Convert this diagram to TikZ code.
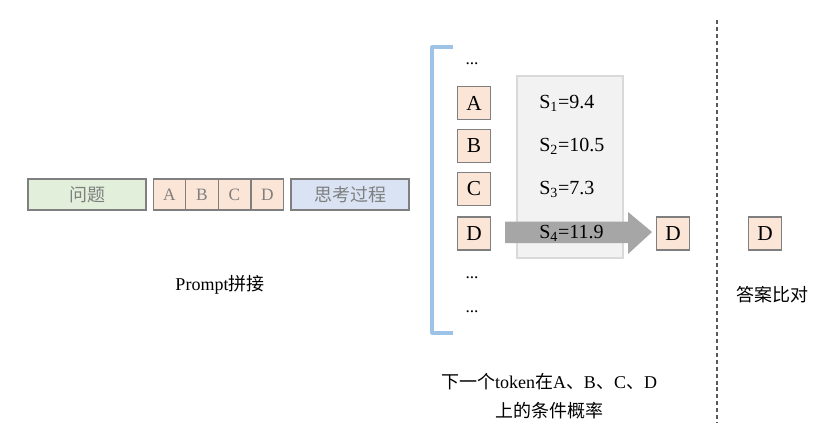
\documentclass[tikz,border=0pt]{standalone}
\usepackage{fontspec}
\setmainfont{Liberation Serif}
\newfontfamily\cjk{Noto Sans CJK SC}
\definecolor{bgreen}{HTML}{E2EFDA}
\definecolor{borange}{HTML}{FBE5D6}
\definecolor{bblue}{HTML}{DAE3F3}
\definecolor{bordgray}{HTML}{7F7F7F}
\definecolor{txtgray}{HTML}{7F7F7F}
\definecolor{brk}{HTML}{9DC3E6}
\definecolor{panel}{HTML}{F2F2F2}
\definecolor{panelb}{HTML}{D9D9D9}
\definecolor{arrowgray}{HTML}{A6A6A6}
\definecolor{dashc}{HTML}{595959}
\begin{document}
\begin{tikzpicture}[x=0.75pt,y=-0.75pt,
  promptbox/.style={draw=bordgray,line width=0.9pt,minimum height=23.25pt,inner sep=0pt,font=\cjk\fontsize{13.5}{15}\selectfont,text=txtgray},
  optsmall/.style={draw=bordgray,line width=0.9pt,fill=borange,minimum height=23.25pt,minimum width=24.5pt,inner sep=0pt,font=\fontsize{13}{15}\selectfont,text=txtgray},
  tokbox/.style={draw=bordgray,line width=0.9pt,fill=borange,minimum width=24.75pt,minimum height=24.75pt,inner sep=0pt,font=\fontsize{16}{18}\selectfont},
  stxt/.style={font=\fontsize{15}{17}\selectfont,inner sep=0pt,anchor=west},
  dots/.style={font=\fontsize{13}{15}\selectfont,inner sep=0pt},
  captxt/.style={font=\fontsize{13.5}{15}\selectfont,inner sep=0pt}]
\useasboundingbox (0,0) rectangle (837,444);
% prompt row
\node[promptbox,fill=bgreen,minimum width=88.5pt] (q) at (87,194.5) {问题};
\node[optsmall] (oa) at (169.5,194.5) {A};
\node[optsmall] (ob) at (202,194.5) {B};
\node[optsmall] (oc) at (234.5,194.5) {C};
\node[optsmall] (od) at (267.5,194.5) {D};
\node[promptbox,fill=bblue,minimum width=88.5pt] (th) at (350,194.5) {思考过程};
\node[captxt] (pl) at (220,285) {Prompt{\cjk 拼接}};
% bracket
\coordinate (bt) at (453,47);
\coordinate (bb) at (453,333);
\draw[brk,line width=2.4pt,line join=round] (bt) -- (432,47) -- (432,333) -- (bb);
% panel
\node[draw=panelb,fill=panel,line width=0.8pt,minimum width=79.5pt,minimum height=136.5pt,inner sep=0pt] (panel) at (570,167) {};
% dots
\node[dots] (d1) at (472,64) {...};
\node[dots] (d2) at (472,278) {...};
\node[dots] (d3) at (472,312) {...};
% token boxes
\node[tokbox] (ta) at (474,103) {A};
\node[tokbox] (tb) at (474,146) {B};
\node[tokbox] (tc) at (474,189) {C};
\node[tokbox] (td) at (474,233.5) {D};
% arrow
\coordinate (art) at (652,232);
\fill[arrowgray] (505,221.5) -- (628,221.5) -- (628,212) -- (art) -- (628,254) -- (628,243) -- (505,243) -- cycle;
% scores
\node[stxt] (s1) at (539,103) {S\textsubscript{1}=9.4};
\node[stxt] (s2) at (539,146) {S\textsubscript{2}=10.5};
\node[stxt] (s3) at (539,189) {S\textsubscript{3}=7.3};
\node[stxt] (s4) at (539,233) {S\textsubscript{4}=11.9};
% result D
\node[tokbox] (rd) at (673,233.5) {D};
% dashed separator
\coordinate (sepT) at (717,20);
\coordinate (sepB) at (717,423);
\draw[dashc,line width=0.8pt,dash pattern=on 3pt off 2.2pt] (sepT) -- (sepB);
% answer D
\node[tokbox] (ad) at (765,233.5) {D};
\node[captxt] (cmp) at (772,295) {\cjk 答案比对};
% bottom caption
\node[captxt] (c1) at (549,382) {{\cjk 下一个}token{\cjk 在}A{\cjk 、}B{\cjk 、}C{\cjk 、}D};
\node[captxt] (c2) at (549,411) {\cjk 上的条件概率};
\end{tikzpicture}
\end{document}
